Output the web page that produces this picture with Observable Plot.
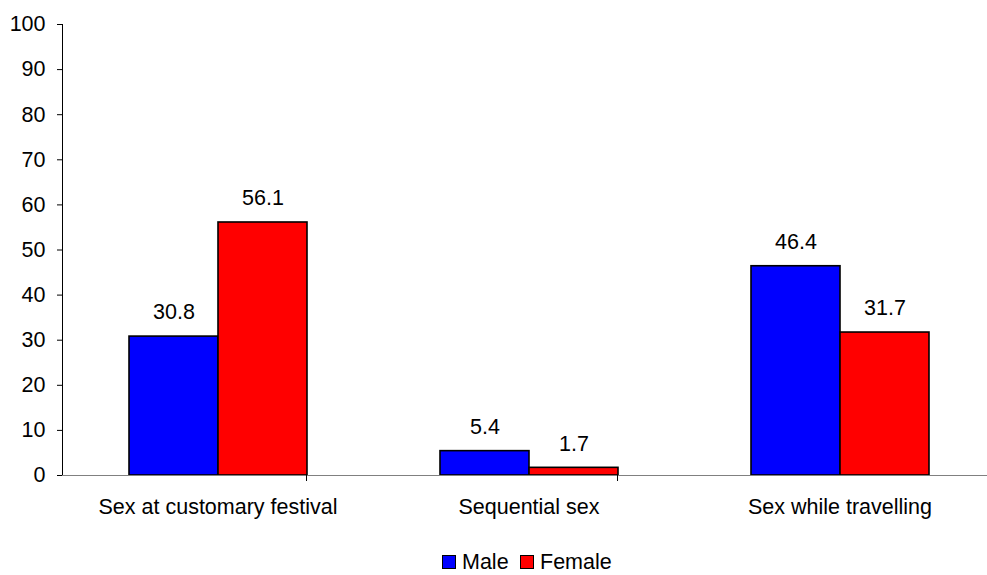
<!DOCTYPE html>
<html>
<head>
<meta charset="utf-8">
<script src="https://cdn.jsdelivr.net/npm/d3@7"></script>
<script src="https://cdn.jsdelivr.net/npm/@observablehq/plot@0.6"></script>
<style>
  html, body { margin: 0; padding: 0; background: #fff; overflow: hidden; }
  body { width: 987px; height: 575px; position: relative; font-family: "Liberation Sans", Arial, sans-serif; }
  #legend { position: absolute; left: 0; top: 0; width: 987px; height: 575px; pointer-events: none; }
  .sw { position: absolute; top: 555px; width: 12px; height: 12px; border: 1.5px solid #000; }
  .lab { position: absolute; top: 553px; height: 18px; font-size: 21.5px; line-height: 18px; color: #000; white-space: nowrap; }
</style>
</head>
<body>
<div id="chart"></div>
<div id="legend"></div>
<script>
const categories = ["Sex at customary festival", "Sequential sex", "Sex while travelling"];
const series = ["Male", "Female"];
const maleValues = [30.8, 5.4, 46.4];
const femaleValues = [56.1, 1.7, 31.7];
const colors = ["#0000FF", "#FF0000"];
const yTicks = [0, 10, 20, 30, 40, 50, 60, 70, 80, 90, 100];

const data = [];
categories.forEach((c, i) => {
  data.push({category: c, sex: "Male", value: maleValues[i]});
  data.push({category: c, sex: "Female", value: femaleValues[i]});
});

const FS = 21.5;
const H = 548;
const plot = Plot.plot({
  width: 987,
  height: H,
  marginLeft: 62,
  marginRight: -8,
  marginTop: 24,
  marginBottom: H - 475,
  style: {fontFamily: "'Liberation Sans', Arial, sans-serif", fontSize: FS + "px", color: "#000", background: "#fff", overflow: "visible"},
  fx: {domain: categories, padding: 0, label: null},
  x: {domain: series, paddingInner: 0, paddingOuter: 0.747, axis: null},
  y: {domain: [0, 100], ticks: yTicks, label: null},
  color: {domain: series, range: colors},
  marks: [
    Plot.axisY({ticks: yTicks, tickSize: 5, tickPadding: 12, fontSize: FS, label: null, stroke: "#000"}),
    Plot.frame({anchor: "left", facetAnchor: "left", stroke: "#000"}),
    Plot.barY(data, {fx: "category", x: "sex", y: "value", fill: "sex", stroke: "#000", strokeWidth: 1.6}),
    Plot.ruleY([0], {stroke: "#808080", strokeWidth: 1.2}),
    (index, scales, values, dimensions) => {
      const [x0] = scales.x.range();
      const left = x0 - (scales.x.step() * 0.747);
      const y0 = scales.y(0);
      const g = d3.create("svg:g");
      g.append("line")
        .attr("x1", left).attr("x2", left)
        .attr("y1", y0).attr("y2", y0 + 6)
        .attr("stroke", "#000");
      return g.node();
    },
    Plot.text(data, {fx: "category", x: "sex", y: "value", text: d => d.value.toFixed(1), dy: -24, fontSize: FS, fill: "#000"}),
    Plot.axisFx({anchor: "bottom", tickSize: 0, tickPadding: 23, fontSize: FS, label: null, lineAnchor: "top"})
  ]
});
document.getElementById("chart").appendChild(plot);

const legend = document.getElementById("legend");
const swLefts = [442, 520];
const labLefts = [462, 540];
series.forEach((s, i) => {
  const sw = document.createElement("div");
  sw.className = "sw";
  sw.style.left = swLefts[i] + "px";
  sw.style.background = colors[i];
  legend.appendChild(sw);
  const lab = document.createElement("div");
  lab.className = "lab";
  lab.style.left = labLefts[i] + "px";
  lab.textContent = s;
  legend.appendChild(lab);
});
</script>
</body>
</html>
